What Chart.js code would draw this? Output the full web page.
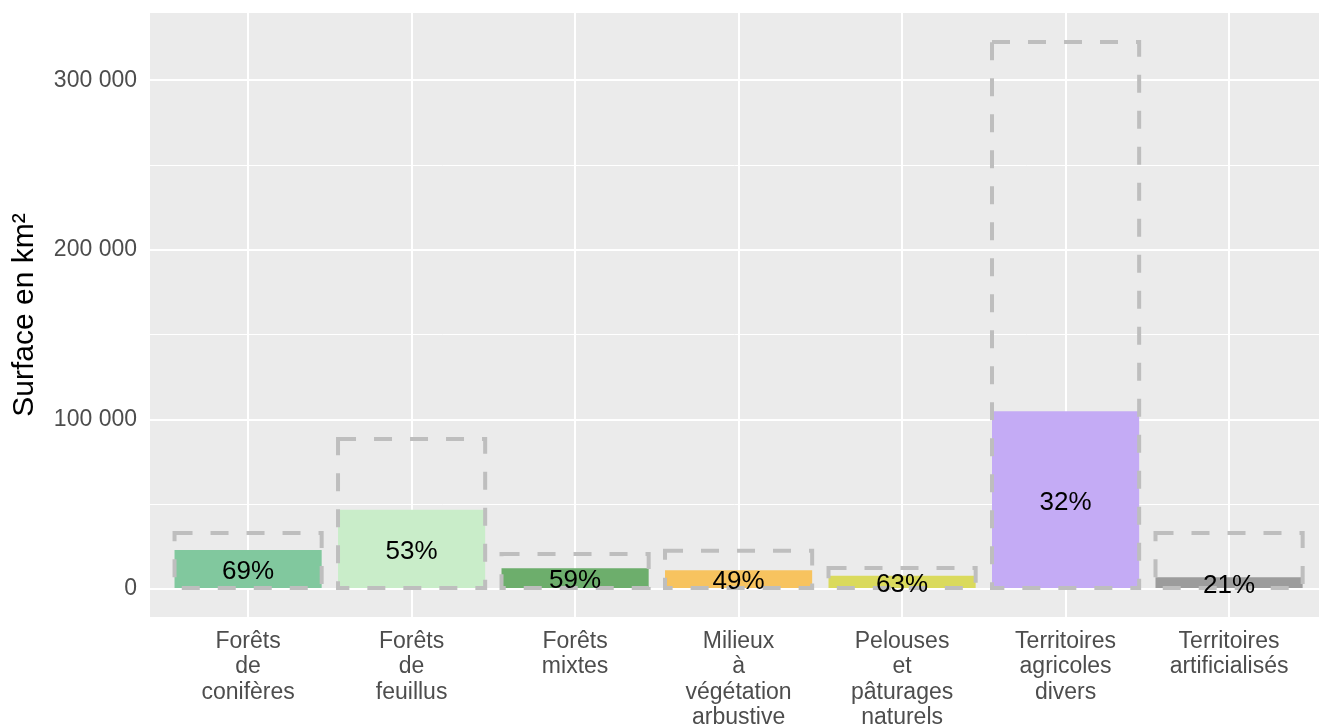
<!DOCTYPE html>
<html>
<head>
<meta charset="utf-8">
<script src="https://cdn.jsdelivr.net/npm/chart.js@4.4.1/dist/chart.umd.min.js"></script>
<style>
    html, body { margin: 0; padding: 0; background: #fff; }
    #wrap { width: 1319px; height: 725px; position: relative; }
</style>
</head>
<body>
<div id="wrap"><canvas id="surfaceChart"></canvas></div>
<script>
const categories = [
    ['Forêts', 'de', 'conifères'],
    ['Forêts', 'de', 'feuillus'],
    ['Forêts', 'mixtes'],
    ['Milieux', 'à', 'végétation', 'arbustive'],
    ['Pelouses', 'et', 'pâturages', 'naturels'],
    ['Territoires', 'agricoles', 'divers'],
    ['Territoires', 'artificialisés']
];
const surfaceTotal = [33000, 88500, 20600, 22600, 12400, 322700, 33000];   // cadre pointillé
const surfacePart = [23000, 46800, 12300, 11100, 7800, 104800, 6900];      // barre colorée
const shareLabels = ['69%', '53%', '59%', '49%', '63%', '32%', '21%'];
const barColors = ['#81C89E', '#C9EDC9', '#6DAE6C', '#F7C35F', '#DADA5C', '#C4ABF5', '#9C9C9C'];
const yTicks = [0, 50000, 100000, 150000, 200000, 250000, 300000];

const fmt = v => String(v).replace(/\B(?=(\d{3})+(?!\d))/g, ' ');
const FONT = '"Liberation Sans", Arial, sans-serif';

// fond gris du panneau + cadres pointillés + étiquettes
const panelPlugin = {
    id: 'panel',
    beforeDraw(chart) {
        const a = chart.chartArea, c = chart.ctx;
        c.save();
        c.fillStyle = '#EBEBEB';
        c.fillRect(a.left, a.top, a.right - a.left, a.bottom - a.top);
        c.restore();
    },
    afterDatasetsDraw(chart) {
        const c = chart.ctx;
        const totals = chart.getDatasetMeta(1).data;
        c.save();
        c.strokeStyle = '#BEBEBE';
        c.lineWidth = 4;
        c.setLineDash([18, 18]);
        totals.forEach(el => {
            c.strokeRect(el.x - el.width / 2, el.y, el.width, el.base - el.y);
        });
        c.restore();

        const parts = chart.getDatasetMeta(0).data;
        c.save();
        c.fillStyle = '#000';
        c.font = '26px ' + FONT;
        c.textAlign = 'center';
        c.textBaseline = 'middle';
        parts.forEach((el, i) => {
            c.fillText(shareLabels[i], el.x, (el.y + el.base) / 2 + 3);
        });
        c.restore();
    }
};

const toPoints = arr => arr.map((v, i) => ({ x: i + 1, y: v }));

const ctx = document.getElementById('surfaceChart').getContext('2d');

const chart = new Chart(ctx, {
    type: 'bar',
    data: {
        datasets: [{
            label: 'part',
            data: toPoints(surfacePart),
            backgroundColor: barColors,
            borderWidth: 0,
            grouped: false,
            barPercentage: 0.9,
            categoryPercentage: 1
        }, {
            label: 'total',
            data: toPoints(surfaceTotal),
            backgroundColor: 'rgba(0,0,0,0)',
            borderWidth: 0,
            grouped: false,
            barPercentage: 0.9,
            categoryPercentage: 1
        }]
    },
    plugins: [panelPlugin],
    options: {
        responsive: true,
        maintainAspectRatio: false,
        animation: false,
        layout: { padding: { top: 13, right: 0, left: 0, bottom: 0 } },
        plugins: {
            legend: { display: false },
            tooltip: { enabled: false }
        },
        scales: {
            x: {
                type: 'linear',
                min: 0.4,
                max: 7.55,   // le panneau est coupé au bord droit
                offset: false,
                afterFit: s => { s.height = 108; s.paddingLeft = 0; s.paddingRight = 0; },
                afterBuildTicks: s => { s.ticks = categories.map((c, i) => ({ value: i + 1 })); },
                grid: { offset: false, color: '#FFFFFF', lineWidth: 2, drawTicks: false },
                border: { display: false },
                ticks: {
                    color: '#4D4D4D',
                    padding: 12,
                    maxRotation: 0,
                    autoSkip: false,
                    font: { family: FONT, size: 23, lineHeight: 1.1 },
                    callback: v => categories[v - 1]
                }
            },
            y: {
                min: -16500,
                max: 339800,
                afterFit: s => { s.width = 150; s.paddingTop = 0; s.paddingBottom = 0; },
                afterBuildTicks: s => { s.ticks = yTicks.map(v => ({ value: v })); },
                grid: {
                    color: '#FFFFFF',
                    lineWidth: c => (c.tick && c.tick.value % 100000 === 0) ? 2 : 1,
                    drawTicks: false
                },
                border: { display: false },
                ticks: {
                    color: '#4D4D4D',
                    padding: 13,
                    font: { family: FONT, size: 23 },
                    callback: v => v % 100000 === 0 ? fmt(v) : ''
                },
                title: {
                    display: true,
                    text: 'Surface en km²',
                    color: '#000',
                    padding: { top: 7, bottom: 0 },
                    font: { family: FONT, size: 30 }
                }
            }
        }
    }
});
</script>
</body>
</html>
